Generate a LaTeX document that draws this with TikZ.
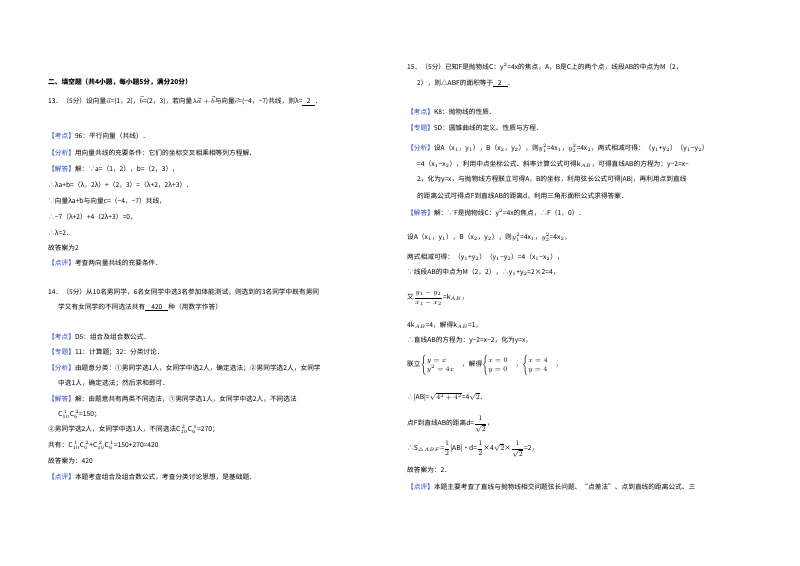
\documentclass[tikz,border=0pt]{standalone}
\usepackage{fontspec}
\setmainfont{Noto Sans CJK SC}
\usepackage{amsmath}
\definecolor{lb}{RGB}{40,70,200}
\newcommand{\lb}[1]{{\color{lb}【#1】}}
\begin{document}
\begin{tikzpicture}[x=1pt,y=-1pt,
  t/.style={anchor=west,inner sep=0pt,font=\fontsize{6.7}{7.5}\selectfont}]
\useasboundingbox[fill=white] (0,0) rectangle (800,565);
% left column
\node[t,font=\fontsize{6.7}{7.5}\selectfont\bfseries] (l1) at (48,82) {二、填空题（共4小题，每小题5分，满分20分）};
\node[t] (l2) at (48,101) {13．（5分）设向量$\vec a$=(1，2)，$\vec b$=(2，3)，若向量$\lambda\vec a+\vec b$与向量$\vec c$=(−4，−7)共线，则λ=\underline{\ \ \ 2\ \ \ }．};
\node[t] (l3) at (48,136) {\lb{考点}96：平行向量（共线）．};
\node[t] (l4) at (48,153) {\lb{分析}用向量共线的充要条件：它们的坐标交叉相乘相等列方程解．};
\node[t] (l5) at (48,169) {\lb{解答}解：∵a=（1，2），b=（2，3），};
\node[t] (l6) at (48,185) {∴λa+b=（λ，2λ）+（2，3）=（λ+2，2λ+3）．};
\node[t] (l7) at (48,201) {∵向量λa+b与向量c=（−4，−7）共线，};
\node[t] (l8) at (48,217) {∴−7（λ+2）+4（2λ+3）=0，};
\node[t] (l9) at (48,233) {∴λ=2．};
\node[t] (l10) at (48,248) {故答案为2};
\node[t] (l11) at (48,263) {\lb{点评}考查两向量共线的充要条件．};
\node[t] (l12) at (48,292) {14．（5分）从10名男同学，6名女同学中选3名参加体能测试，则选到的3名同学中既有男同};
\node[t] (l13) at (58,307) {学又有女同学的不同选法共有\underline{\ \ \ \ 420\ \ \ \ }种（用数字作答）};
\node[t] (l14) at (48,337) {\lb{考点}D5：组合及组合数公式．};
\node[t] (l15) at (48,352) {\lb{专题}11：计算题；32：分类讨论．};
\node[t] (l16) at (48,368) {\lb{分析}由题意分类：①男同学选1人，女同学中选2人，确定选法；②男同学选2人，女同学};
\node[t] (l17) at (58,383) {中选1人，确定选法；然后求和即可．};
\node[t] (l18) at (48,399) {\lb{解答}解：由题意共有两类不同选法，①男同学选1人，女同学中选2人，不同选法};
\node[t] (l19) at (58,414) {C$_{10}^{\,1}$C$_6^{\,2}$=150；};
\node[t] (l20) at (48,429) {②男同学选2人，女同学中选1人，不同选法C$_{10}^{\,2}$C$_6^{\,1}$=270；};
\node[t] (l21) at (48,445) {共有：C$_{10}^{\,1}$C$_6^{\,2}$+C$_{10}^{\,2}$C$_6^{\,1}$=150+270=420};
\node[t] (l22) at (48,461) {故答案为：420};
\node[t] (l23) at (48,477) {\lb{点评}本题考查组合及组合数公式，考查分类讨论思想，是基础题．};
% right column
\node[t] (r1) at (407,67) {15．（5分）已知F是抛物线C：y$^2$=4x的焦点，A，B是C上的两个点，线段AB的中点为M（2，};
\node[t] (r2) at (417,83) {2），则△ABF的面积等于\underline{\ \ \ 2\ \ \ \ }．};
\node[t] (r3) at (407,112) {\lb{考点}K8：抛物线的性质．};
\node[t] (r4) at (407,128) {\lb{专题}5D：圆锥曲线的定义、性质与方程．};
\node[t] (r5) at (407,148) {\lb{分析}设A（x$_1$，y$_1$），B（x$_2$，y$_2$），则$y_1^2$=4x$_1$，$y_2^2$=4x$_2$，两式相减可得：（y$_1$+y$_2$）（y$_1$−y$_2$）};
\node[t] (r6) at (417,164) {=4（x$_1$−x$_2$），利用中点坐标公式、斜率计算公式可得k$_{AB}$，可得直线AB的方程为：y−2=x−};
\node[t] (r7) at (417,180) {2，化为y=x，与抛物线方程联立可得A，B的坐标，利用弦长公式可得|AB|，再利用点到直线};
\node[t] (r8) at (417,196) {的距离公式可得点F到直线AB的距离d，利用三角形面积公式求得答案．};
\node[t] (r9) at (407,213) {\lb{解答}解：∵F是抛物线C：y$^2$=4x的焦点，∴F（1，0）．};
\node[t] (r10) at (407,237) {设A（x$_1$，y$_1$），B（x$_2$，y$_2$），则$y_1^2$=4x$_1$，$y_2^2$=4x$_2$，};
\node[t] (r11) at (407,257) {两式相减可得：（y$_1$+y$_2$）（y$_1$−y$_2$）=4（x$_1$−x$_2$），};
\node[t] (r12) at (407,272) {∵线段AB的中点为M（2，2），∴y$_1$+y$_2$=2×2=4，};
\node[t] (r13) at (407,298) {又$\dfrac{y_1-y_2}{x_1-x_2}$=k$_{AB}$，};
\node[t] (r14) at (407,325) {4k$_{AB}$=4，解得k$_{AB}$=1，};
\node[t] (r15) at (407,340) {∴直线AB的方程为：y−2=x−2，化为y=x，};
\node[t] (r16) at (407,365) {联立$\begin{cases}y=x\\y^2=4x\end{cases}$，解得$\begin{cases}x=0\\y=0\end{cases}$，$\begin{cases}x=4\\y=4\end{cases}$，};
\node[t] (r17) at (407,397) {∴|AB|=$\sqrt{4^2+4^2}$=4$\sqrt2$．};
\node[t] (r18) at (407,424) {点F到直线AB的距离d=$\dfrac{1}{\sqrt2}$，};
\node[t] (r19) at (407,449) {∴S$_{\triangle ABF}$=$\dfrac12$|AB|•d=$\dfrac12$×4$\sqrt2$×$\dfrac{1}{\sqrt2}$=2，};
\node[t] (r20) at (407,470) {故答案为：2．};
\node[t] (r21) at (407,487) {\lb{点评}本题主要考查了直线与抛物线相交问题弦长问题、“点差法”、点到直线的距离公式、三};
\end{tikzpicture}
\end{document}
